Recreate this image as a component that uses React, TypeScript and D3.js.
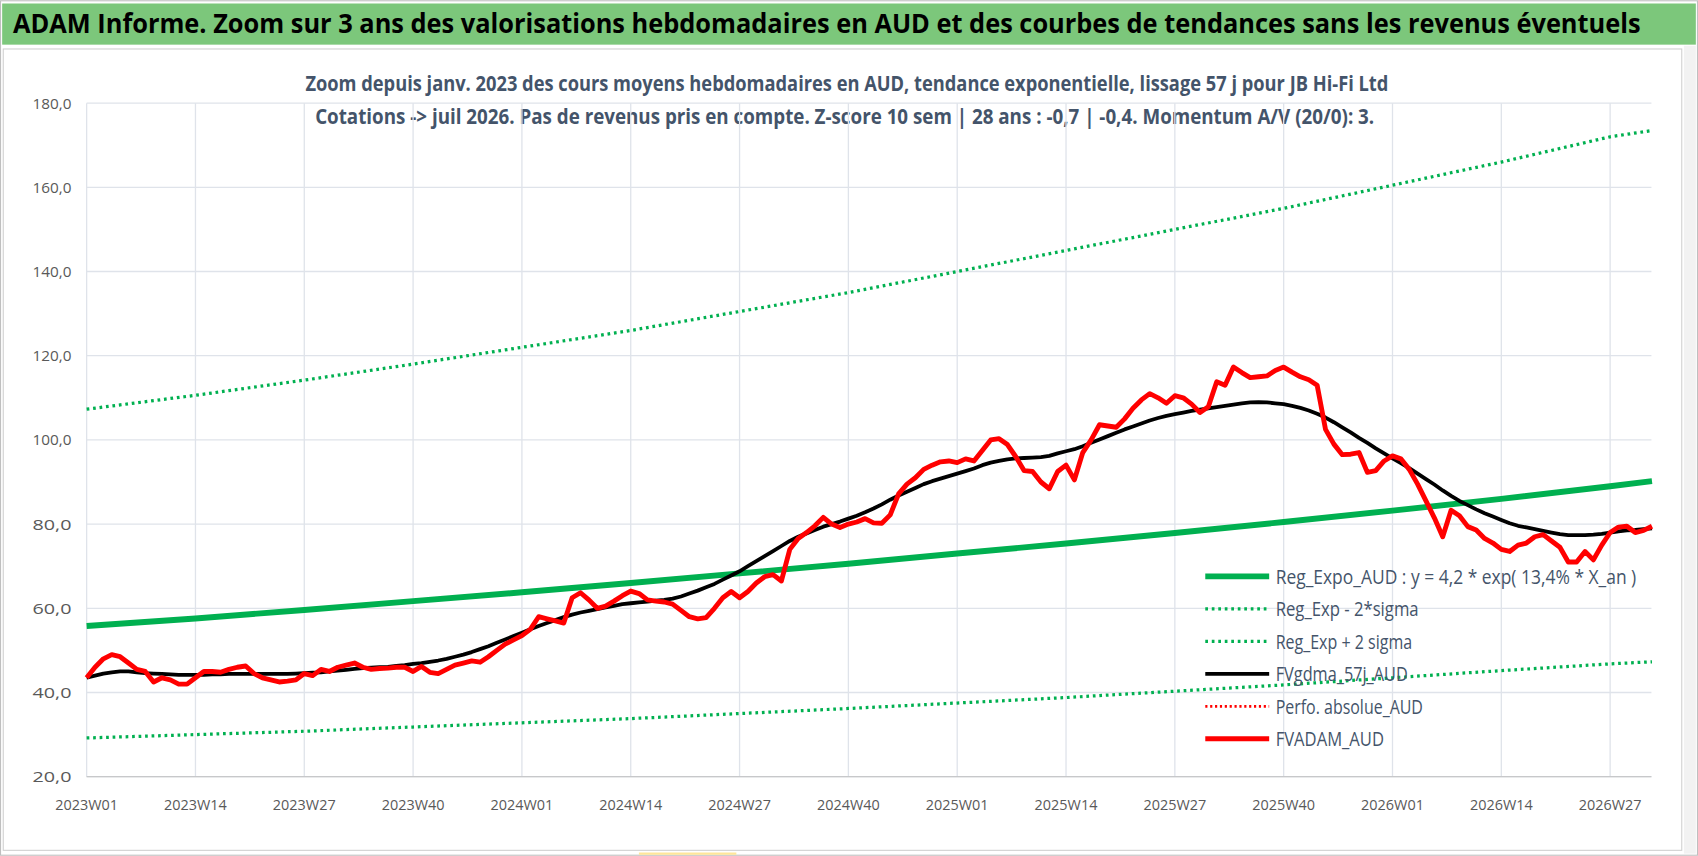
import React from 'react';
import * as d3 from 'd3';

// Weekly categories 2023W01 .. 2026W32
const years = [2023, 2024, 2025, 2026];
const weeks: string[] = [];
years.forEach(y => {
  const n = y === 2026 ? 32 : 52;
  for (let w = 1; w <= n; w++) weeks.push(`${y}W${String(w).padStart(2, '0')}`);
});

// FVADAM_AUD weekly values
const fvAdam = [
  43.5, 46, 48, 49, 48.5, 47, 45.5, 45, 42.5, 43.5, 43, 42, 42, 43.5, 45, 45, 44.8, 45.5, 46, 46.3,
  44.5, 43.5, 43, 42.5, 42.7, 43, 44.5, 44, 45.5, 45, 46, 46.5, 47, 46, 45.5, 45.7, 45.8, 46, 46, 45,
  46.2, 44.8, 44.5, 45.5, 46.5, 47, 47.5, 47.2, 48.5, 50, 51.5, 52.5,
  53.5, 55, 58, 57.5, 57, 56.5, 62.5, 63.7, 62, 60, 60.5, 61.7, 63, 64.1, 63.5, 62, 61.7, 61.5,
  61, 59.5, 58, 57.5, 57.8, 60, 62.5, 64, 62.5, 64, 66, 67.5, 68, 66.5, 74, 76.6, 78, 79.6, 81.6, 80,
  79.2, 80, 80.5, 81.3, 80.3, 80.2, 82.2, 87.2, 89.5, 91, 93, 94, 94.8, 95,
  94.6, 95.5, 95, 97.5, 100, 100.3, 98.9, 96, 92.7, 92.5, 90, 88.4, 92.5, 94, 90.5, 97, 100, 103.6,
  103.3, 103, 105, 107.5, 109.5, 111, 110, 108.7, 110.5, 110, 108.5, 106.5, 107.9, 113.8, 113, 117.3,
  116, 114.8, 115, 115.2, 116.5, 117.3, 116.1, 115, 114.3, 113, 102.5, 99, 96.5, 96.6, 97, 92.3, 92.7, 95,
  96.2, 95.5, 93, 89.5, 85.5, 81.5, 77, 83.3, 82, 79.4, 78.6, 76.6, 75.5, 74, 73.5, 75, 75.5, 77,
  77.5, 76, 74.5, 71, 71, 73.5, 71.5, 75, 78, 79.3, 79.5, 78, 78.5, 79.5,
];

// FVgdma_57j_AUD weekly values
const fvGdma = [
  43.5, 44, 44.5, 44.8, 45, 45, 44.8, 44.6, 44.5, 44.4, 44.3, 44.2, 44.2, 44.2, 44.2, 44.3, 44.3, 44.4, 44.4, 44.4,
  44.4, 44.4, 44.4, 44.4, 44.4, 44.5, 44.6, 44.7, 44.8, 45, 45.2, 45.4, 45.6, 45.8, 45.9, 46, 46.1, 46.3, 46.5, 46.8,
  47, 47.3, 47.6, 48, 48.5, 49, 49.6, 50.3, 51, 51.8, 52.6, 53.4,
  54.2, 55, 55.8, 56.5, 57.2, 57.9, 58.5, 59, 59.4, 59.8, 60.2, 60.6, 61, 61.2, 61.4, 61.6, 61.8, 62,
  62.3, 62.8, 63.5, 64.2, 65, 65.8, 66.8, 67.8, 68.8, 70, 71.2, 72.4, 73.6, 74.8, 76, 77, 77.8, 78.6, 79.4, 80,
  80.6, 81.3, 82, 82.8, 83.7, 84.7, 85.8, 86.8, 87.7, 88.6, 89.5, 90.2, 90.8, 91.4,
  92, 92.6, 93.2, 94, 94.6, 95, 95.4, 95.6, 95.7, 95.8, 95.9, 96.2, 96.8, 97.3, 97.8, 98.5, 99.3, 100.1,
  100.9, 101.7, 102.5, 103.2, 103.9, 104.6, 105.2, 105.7, 106.1, 106.5, 106.9, 107.2, 107.5, 107.8, 108.1, 108.4,
  108.7, 108.9, 109, 108.9, 108.7, 108.5, 108.1, 107.6, 107, 106.2, 105.3, 104.2, 103, 101.8, 100.5, 99.3, 98, 96.8,
  95.6, 94.5, 93.3, 92, 90.7, 89.4, 88, 86.7, 85.5, 84.5, 83.5, 82.6, 81.8, 81, 80.2, 79.6, 79.2, 78.8,
  78.4, 78, 77.6, 77.4, 77.4, 77.4, 77.5, 77.7, 78, 78.3, 78.5, 78.6, 78.8, 79,
];

// Trend lines, sampled every 13 weeks (index in weeks, value)
const trendIdx = [0, 13, 26, 39, 52, 65, 78, 91, 104, 117, 130, 143, 156, 169, 182, 187];
const regExpo = [55.8, 57.6, 59.6, 61.7, 63.8, 66, 68.3, 70.6, 73, 75.4, 77.9, 80.5, 83.2, 86, 89, 90.2];
const regPlus = [107.3, 110.6, 114.2, 118, 122, 126, 130.5, 135, 140, 145, 150, 155, 160.5, 166, 172, 173.5];
const regMinus = [29.2, 30, 30.8, 31.8, 32.8, 33.8, 35, 36.2, 37.5, 38.8, 40.3, 41.8, 43.5, 45.2, 46.8, 47.3];

const yTicks = [20, 40, 60, 80, 100, 120, 140, 160, 180];
const xTickLabels = ['2023W01', '2023W14', '2023W27', '2023W40', '2024W01', '2024W14', '2024W27', '2024W40',
  '2025W01', '2025W14', '2025W27', '2025W40', '2026W01', '2026W14', '2026W27'];

const legendItems = [
  { name: 'Reg_Expo_AUD : y = 4,2 * exp( 13,4% *  X_an )', color: '#00b050', width: 5.5, dash: '', len: 333 },
  { name: 'Reg_Exp - 2*sigma', color: '#00b050', width: 3, dash: '2.5,3.5', len: 132 },
  { name: 'Reg_Exp + 2 sigma', color: '#00b050', width: 3, dash: '2.5,3.5', len: 126 },
  { name: 'FVgdma_57j_AUD', color: '#000000', width: 3.5, dash: '', len: 122 },
  { name: 'Perfo. absolue_AUD', color: '#ff0000', width: 2.5, dash: '2,2.5', len: 136 },
  { name: 'FVADAM_AUD', color: '#ff0000', width: 4.5, dash: '', len: 100 },
];

const FONT = '"Liberation Sans Narrow", "Open Sans", "DejaVu Sans Condensed", sans-serif';

export default function App() {
  const W = 1568, H = 790;
  const x0 = 80, wk = 7.73;
  const x = d3.scaleLinear().domain([0, 1]).range([x0, x0 + wk]);
  const y = d3.scaleLinear().domain([20, 180]).range([717, 95]);

  const line = d3.line<[number, number]>().x(d => x(d[0])).y(d => y(d[1]));
  const series = (vals: number[]) => line(vals.map((v, i) => [i, v] as [number, number])) || '';
  const trend = (vals: number[]) => line(vals.map((v, i) => [trendIdx[i], v] as [number, number])) || '';

  const xRight = 1525;

  return (
    <div style={{ position: 'fixed', left: 0, top: 0 }}>
      <svg width={1698} height={856} viewBox={`0 0 ${W} ${H}`} style={{ display: 'block', background: '#fff' }}>
        <rect x={0.5} y={0.5} width={W - 1} height={H - 1} fill="#fff" stroke="#bfbfbf" />
        <rect x={2} y={3} width={W - 4} height={38} fill="#7cc77b" />
        <text x={12} y={30} fontFamily={FONT} fontSize={24} fontWeight="bold" fill="#000"
          textLength={1503} lengthAdjust="spacingAndGlyphs">
          ADAM Informe. Zoom sur 3 ans des valorisations hebdomadaires en AUD et des courbes de tendances sans les revenus éventuels
        </text>
        <rect x={3} y={45} width={1550} height={740} fill="#fff" stroke="#d0d0d0" />
        <rect x={1555} y={42} width={11} height={746} fill="#f2f2f2" />

        <text x={782} y={84} textAnchor="middle" fontFamily={FONT} fontSize={19} fontWeight="bold" fill="#44546a"
          textLength={1000} lengthAdjust="spacingAndGlyphs">
          Zoom depuis janv. 2023 des cours moyens hebdomadaires en AUD, tendance exponentielle, lissage 57 j pour JB Hi-Fi Ltd
        </text>
        <text x={780} y={114} textAnchor="middle" fontFamily={FONT} fontSize={19} fontWeight="bold" fill="#44546a"
          textLength={978} lengthAdjust="spacingAndGlyphs">
          Cotations -&gt; juil 2026. Pas de revenus pris en compte. Z-score 10 sem | 28 ans : -0,7 | -0,4. Momentum A/V (20/0): 3.
        </text>

        {/* grid */}
        {yTicks.map(t => (
          <g key={t}>
            <line x1={x0} x2={xRight} y1={y(t)} y2={y(t)} stroke="#dfe3ea" strokeWidth={1.2} />
            <text x={66} y={y(t) + 5} textAnchor="end" fontFamily={FONT} fontSize={14} fill="#595959"
              textLength={36} lengthAdjust="spacingAndGlyphs">
              {t.toFixed(1).replace('.', ',')}
            </text>
          </g>
        ))}
        {xTickLabels.map(l => {
          const i = weeks.indexOf(l);
          return (
            <g key={l}>
              <line x1={x(i)} x2={x(i)} y1={y(180)} y2={y(20)} stroke="#dfe3ea" strokeWidth={1.2} />
              <text x={x(i)} y={748} textAnchor="middle" fontFamily={FONT} fontSize={14} fill="#595959"
                textLength={58} lengthAdjust="spacingAndGlyphs">{l}</text>
            </g>
          );
        })}
        <line x1={x0} x2={xRight} y1={y(20)} y2={y(20)} stroke="#bfbfbf" />

        {/* trend lines */}
        <path d={trend(regPlus)} fill="none" stroke="#00b050" strokeWidth={3} strokeDasharray="2.5,3.5" />
        <path d={trend(regMinus)} fill="none" stroke="#00b050" strokeWidth={3} strokeDasharray="2.5,3.5" />
        <path d={trend(regExpo)} fill="none" stroke="#00b050" strokeWidth={5.5} />

        <path d={series(fvGdma)} fill="none" stroke="#000" strokeWidth={3.5} strokeLinejoin="round" />
        <path d={series(fvAdam)} fill="none" stroke="#ff0000" strokeWidth={4.5} strokeLinejoin="round" />

        {/* legend */}
        {legendItems.map((it, i) => {
          const ly = 532 + i * 30;
          return (
            <g key={it.name}>
              <line x1={1113} x2={1172} y1={ly} y2={ly} stroke={it.color} strokeWidth={it.width}
                strokeDasharray={it.dash || undefined} />
              <text x={1178} y={ly + 7} fontFamily={FONT} fontSize={19} fill="#44546a"
                textLength={it.len} lengthAdjust="spacingAndGlyphs">{it.name}</text>
            </g>
          );
        })}

        <line x1={590} x2={680} y1={788} y2={788} stroke="#ffe699" strokeWidth={2} />
      </svg>
    </div>
  );
}
